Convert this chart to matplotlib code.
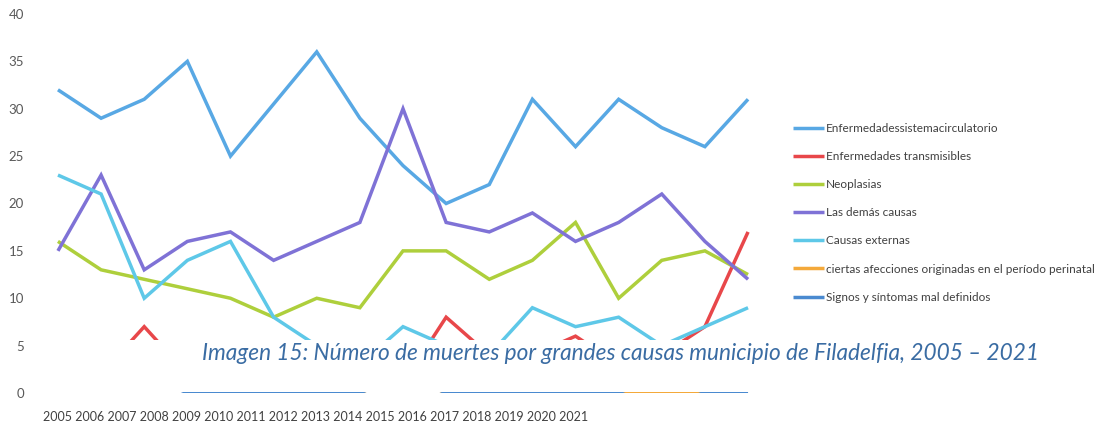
import matplotlib
matplotlib.use("Agg")
import matplotlib.pyplot as plt
import numpy as np

years = [str(y) for y in range(2005, 2022)]

circulatorio = [32, 29, 31, 35, 25, 30.5, 36, 29, 24, 20, 22, 31, 26, 31, 28, 26, 31]
transmisibles = [3, 2, 7, 2, 3, 2, 3, 2, 1, 8, 4, 4, 6, 3, 4, 7, 17]
neoplasias = [16, 13, 12, 11, 10, 8, 10, 9, 15, 15, 12, 14, 18, 10, 14, 15, 12.5]
demas = [15, 23, 13, 16, 17, 14, 16, 18, 30, 18, 17, 19, 16, 18, 21, 16, 12]
externas = [23, 21, 10, 14, 16, 8, 5, 3, 7, 5, 4, 9, 7, 8, 5, 7, 9]
perinatal = [2, 2, 3, 0, 0, 0, 0, 0, 2, 0, 0, 0, 0, 0, 0, 0, 0]
signos = [2, 3, 2, 0, 0, 0, 0, 0, 2, 0, 0, 0, 0, 0, 2, 0, 0]

series_names = [
    "Enfermedadessistemacirculatorio",
    "Enfermedades transmisibles",
    "Neoplasias",
    "Las demás causas",
    "Causas externas",
    "ciertas afecciones originadas en el período perinatal",
    "Signos y síntomas mal definidos",
]
series_values = [circulatorio, transmisibles, neoplasias, demas, externas, perinatal, signos]
colors = ["#58a8e4", "#e8474a", "#aecf3c", "#7f72d6", "#5ec8e8", "#f4a93a", "#4a8ad0"]

y_ticks = [0, 5, 10, 15, 20, 25, 30, 35, 40]

caption = "Imagen 15: Número de muertes por grandes causas municipio de Filadelfia, 2005 – 2021"

W, H = 1107, 422
fig = plt.figure(figsize=(W / 100, H / 100), dpi=100)
fig.patch.set_facecolor("white")

ax = fig.add_axes([36.4 / W, (H - 393) / H, 733.2 / W, 379 / H])
x = np.arange(len(years))
handles = []
for name, vals, col in zip(series_names, series_values, colors):
    (ln,) = ax.plot(x, vals, color=col, lw=2.5, label=name, solid_joinstyle="miter",
                    solid_capstyle="butt", zorder=2)
    handles.append(ln)

ax.set_xlim(-0.5, len(years) - 0.5)
ax.set_ylim(0, 40)
ax.set_yticks(y_ticks)
ax.set_yticklabels([str(t) for t in y_ticks], fontsize=9.5, color="#595959", family="Lato")
ax.tick_params(axis="y", length=0, pad=9)
ax.set_xticks([])
for s in ax.spines.values():
    s.set_visible(False)

# white band of the scanned page covering the lower part of the plot
ax.axhspan(0.12, 5.6, color="white", zorder=5, lw=0)

leg = fig.legend(handles=handles, labels=series_names, loc="upper left",
                 bbox_to_anchor=(793 / W, 1 - 123 / H), frameon=False,
                 borderpad=0, borderaxespad=0, handlelength=2.6, handletextpad=0.2,
                 labelspacing=1.45, prop={"family": "Lato", "size": 8.5})
for t in leg.get_texts():
    t.set_color("#404040")

fig.text(202 / W, 1 - 353 / H, caption, ha="left", va="center", fontsize=16.3,
         style="italic", family="Lato", color="#3a6ca3")

fig.text(43 / W, 1 - 411 / H, " ".join(years), ha="left", va="top", fontsize=9,
         family="Lato", color="#404040")

fig.savefig("out.png", dpi=100, facecolor="white")
